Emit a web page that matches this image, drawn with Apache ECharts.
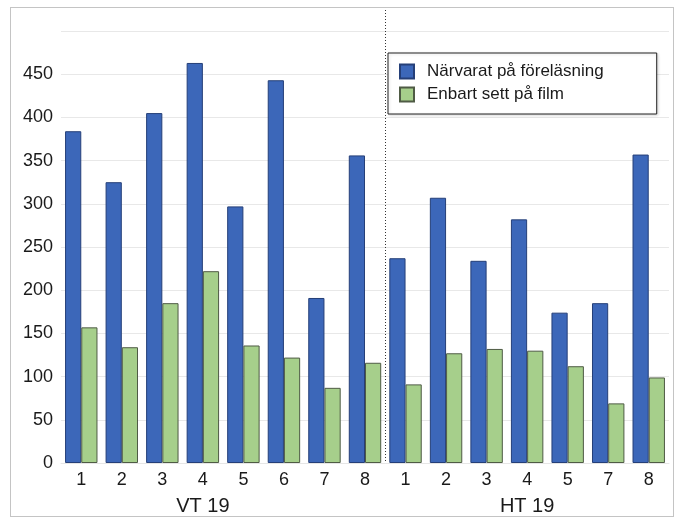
<!DOCTYPE html>
<html>
<head>
<meta charset="utf-8">
<script src="https://cdn.jsdelivr.net/npm/echarts@6/dist/echarts.min.js"></script>
<style>
  html, body { margin: 0; padding: 0; background: #ffffff; }
  #wrap { position: relative; width: 677px; height: 520px; }
  #frame { position: absolute; left: 10px; top: 7px; width: 664px; height: 510px; border: 1px solid #c4c4c4; box-sizing: border-box; }
  #chart { position: absolute; left: 0; top: 0; width: 677px; height: 520px; }
</style>
</head>
<body>
<div id="wrap">
  <div id="frame"></div>
  <div id="chart"></div>
</div>
<script>
// ---- data ----
const groups = ['VT 19', 'HT 19'];
const vtLectures = ['1', '2', '3', '4', '5', '6', '7', '8'];
const htLectures = ['1', '2', '3', '4', '5', '7', '8'];
const seriesNames = ['Närvarat på föreläsning', 'Enbart sett på film'];
const vtAttended = [384, 325, 405, 463, 297, 443, 191, 356];
const vtFilmOnly = [157, 134, 185, 222, 136, 122, 87, 116];
const htAttended = [237, 307, 234, 282, 174, 185, 357];
const htFilmOnly = [91, 127, 132, 130, 112, 69, 99];
const yTicks = [0, 50, 100, 150, 200, 250, 300, 350, 400, 450];

// ---- build ----
const catKeys = vtLectures.map(l => groups[0] + '|' + l).concat(htLectures.map(l => groups[1] + '|' + l));
const attended = vtAttended.concat(htAttended);
const filmOnly = vtFilmOnly.concat(htFilmOnly);
const groupLabelIdx = {3: groups[0], 11: groups[1]};
const boundaryIdx = vtLectures.length;

const font = '"Liberation Sans", Arial, sans-serif';
const chart = echarts.init(document.getElementById('chart'), null, {renderer: 'canvas'});
chart.setOption({
  animation: false,
  backgroundColor: 'transparent',
  textStyle: { fontFamily: font, color: '#1a1a1a' },
  grid: { left: 61, right: 8, top: 31, bottom: 57, containLabel: false },
  legend: {
    orient: 'vertical',
    left: 388, top: 53,
    backgroundColor: '#ffffff',
    borderColor: '#222222', borderWidth: 1,
    padding: [10, 53, 11, 11],
    itemWidth: 14, itemHeight: 14, itemGap: 6,
    icon: 'rect',
    shadowColor: 'rgba(0,0,0,0.15)', shadowBlur: 3, shadowOffsetX: 1, shadowOffsetY: 1,
    textStyle: { fontFamily: font, fontSize: 17, color: '#1a1a1a', padding: [0, 0, 0, 8] },
    data: seriesNames
  },
  xAxis: [
    {
      type: 'category', data: catKeys, gridIndex: 0, position: 'bottom',
      axisLine: { show: true, lineStyle: { color: '#e6e6e6' } },
      axisTick: { show: false },
      axisLabel: { interval: 0, margin: 8, fontSize: 18, color: '#1a1a1a', fontFamily: font,
        formatter: v => v.split('|')[1] },
      splitLine: { show: false }
    },
    {
      type: 'category', data: catKeys, gridIndex: 0, position: 'bottom',
      axisLine: { show: false }, axisTick: { show: false },
      axisLabel: { interval: 0, margin: 33, fontSize: 20, color: '#1a1a1a', fontFamily: font,
        formatter: (v, i) => groupLabelIdx[i] || '' },
      splitLine: { show: false }
    }
  ],
  yAxis: {
    type: 'value', min: 0, max: 500, interval: 50,
    axisLine: { show: false }, axisTick: { show: false },
    axisLabel: { margin: 8, fontSize: 18, color: '#1a1a1a', fontFamily: font,
      formatter: v => yTicks.indexOf(v) >= 0 ? String(v) : '' },
    splitLine: { show: true, lineStyle: { color: '#e8e8e8', width: 1 } }
  },
  series: [
    {
      name: seriesNames[0], type: 'bar', data: attended, barGap: '0%', barCategoryGap: '20%',
      itemStyle: { color: '#3c67b9', borderColor: '#253f78', borderWidth: 1 }
    },
    {
      name: seriesNames[1], type: 'bar', data: filmOnly, barGap: '0%', barCategoryGap: '20%',
      itemStyle: { color: '#a6cf8b', borderColor: '#4f5b45', borderWidth: 1 }
    }
  ]
});

// dotted separator between the two terms, positioned via the axis scale
const xA = chart.convertToPixel({xAxisIndex: 0}, catKeys[boundaryIdx - 1]);
const xB = chart.convertToPixel({xAxisIndex: 0}, catKeys[boundaryIdx]);
const y0 = chart.convertToPixel({yAxisIndex: 0}, 0);
const sepX = Math.round((xA + xB) / 2) + 0.5;
chart.setOption({
  graphic: [{
    type: 'line', z: 10,
    shape: { x1: sepX, y1: 10, x2: sepX, y2: y0 },
    style: { stroke: '#333333', lineWidth: 1, lineDash: [1, 2] }
  }]
});
</script>
</body>
</html>
